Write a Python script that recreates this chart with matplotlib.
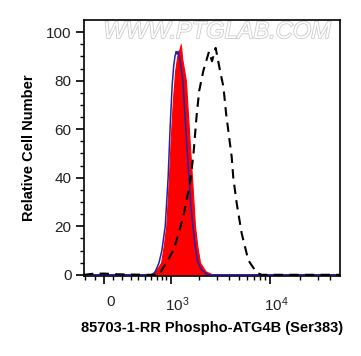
import matplotlib
matplotlib.use("Agg")
import matplotlib.pyplot as plt
import matplotlib.transforms as mtransforms
import matplotlib.patheffects as pe

plt.rcParams['font.family'] = ['Liberation Sans', 'DejaVu Sans']
plt.rcParams['mathtext.default'] = 'regular'

# fluorescence intensity (x) / relative cell number (y)
red_x = [-217, 300, 560, 640, 720, 784, 840, 896, 960, 1010, 1060, 1120, 1200, 1250, 1287,
         1330, 1400, 1454, 1560, 1680, 1803, 1900, 2028, 2300, 2742, 49800]
red_y = [0, 0, 0, 1, 3, 5, 12, 20, 40, 58, 72, 84, 92, 93, 95,
         89, 84, 80, 60, 40, 20, 12, 5, 1.5, 0, 0]

blue_x = [-217, 300, 611, 663, 742, 800, 873, 940, 987, 1040, 1080, 1116, 1150, 1175, 1200,
          1240, 1300, 1352, 1450, 1564, 1640, 1719, 1820, 1934, 2100, 2442, 49800]
blue_y = [0, 0, 0, 1, 5, 10, 20, 40, 60, 78, 86, 90, 92, 91, 92,
          90, 85, 80, 60, 40, 28, 20, 11, 5, 2, 0, 0]

black_x = [-217, -120, 0, 150, 500, 760, 798, 900, 1070, 1220, 1364, 1500, 1604, 1733, 1877,
           1994, 2190, 2500, 2680, 2916, 3227, 3485, 3704, 4052, 4214, 4370, 4725, 5300,
           6164, 7468, 8363, 49800]
black_y = [0, 0.4, 0.5, 0.2, 0, 0, 2, 5, 10, 17, 24, 32, 38, 49, 66,
           76, 84, 92, 88, 93.5, 84, 77.5, 66.6, 54, 48.6, 40, 29.5, 17,
           6, 0.8, 0, 0]

xticks = [0, 1000, 10000]
xticklabels = ['0', '$10^3$', '$10^4$']
xminor = [-200, -100, 100, 200, 300, 400, 500, 600, 700, 800, 900,
          2000, 3000, 4000, 5000, 6000, 7000, 8000, 9000, 20000, 30000, 40000]
yticks = [0, 20, 40, 60, 80, 100]

fig = plt.figure(figsize=(3.61, 3.56), dpi=100)
ax = fig.add_axes([84/361, 1 - 276/356, 256/361, 256/356])
ax.set_xscale('asinh', linear_width=461)

ax.fill_between(red_x, red_y, 0, color='#ff0000', lw=0.8, zorder=2)
ax.plot(blue_x, blue_y, color='#2323a8', lw=1.1, zorder=3)
ax.plot(black_x, black_y, color='black', lw=1.5, ls=(0, (4.5, 3)), zorder=4)

ax.set_xlim(-217, 49800)
ax.set_ylim(-0.5, 105)

ax.set_xticks(xticks)
ax.set_xticklabels(xticklabels)
ax.set_xticks(xminor, minor=True)
ax.set_yticks(yticks)
ax.set_yticks(range(0, 105, 5), minor=True)

ax.tick_params(axis='both', which='major', length=6, width=1.2, labelsize=11,
               labelcolor='#222222', direction='out')
ax.tick_params(axis='both', which='minor', length=3, width=1, direction='out')
ax.tick_params(axis='x', pad=8)
ax.tick_params(axis='y', pad=3)
for s in ax.spines.values():
    s.set_linewidth(1.2)

off = mtransforms.ScaledTranslation(7/100, 0, fig.dpi_scale_trans)
for t in ax.xaxis.get_major_ticks():
    t.label1.set_transform(t.label1.get_transform() + off)

ax.set_ylabel('Relative Cell Number', fontsize=10.5, fontweight='bold', labelpad=7)
ax.set_xlabel('85703-1-RR Phospho-ATG4B (Ser383)', fontsize=10.5, fontweight='bold', labelpad=5)

ax.text(0.52, 0.955, 'WWW.PTGLAB.COM', transform=ax.transAxes, ha='center', va='center',
        fontsize=17, style='italic', color='white', zorder=1,
        path_effects=[pe.Stroke(linewidth=1.2, foreground='#cccccc'), pe.Normal()])

fig.savefig('out.png', dpi=100)
